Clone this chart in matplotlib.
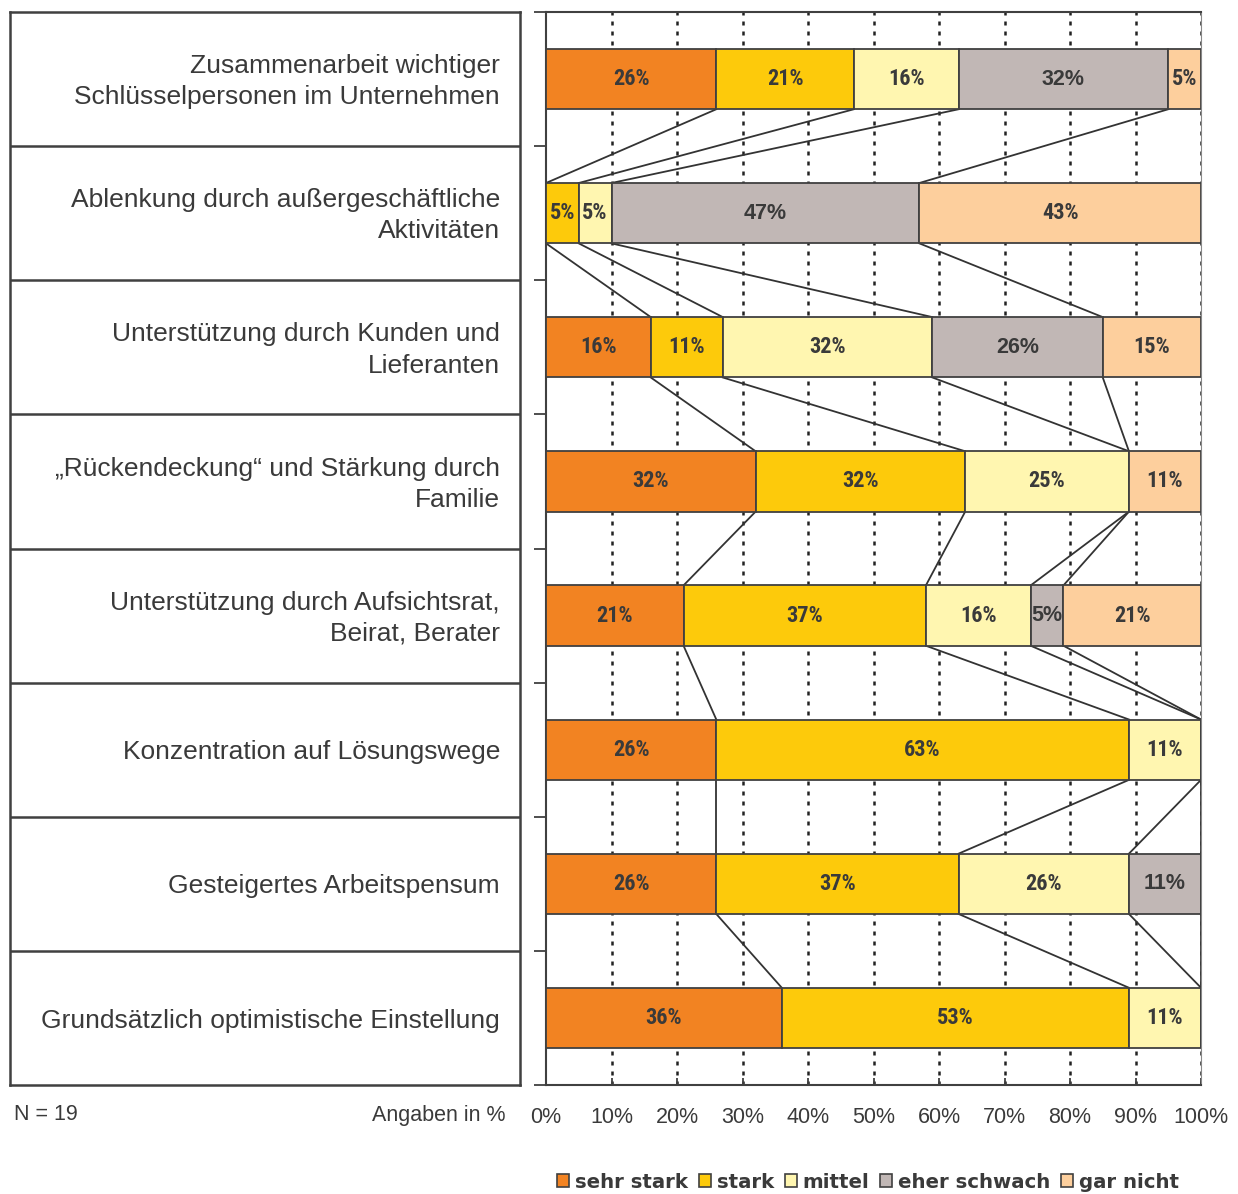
import matplotlib
matplotlib.use("Agg")
import numpy as np
import matplotlib.pyplot as plt
from matplotlib.patches import Patch

plt.rcParams['font.family'] = ['Liberation Sans', 'DejaVu Sans']

# Daten (Angaben in %)
kategorien = [
    "Zusammenarbeit wichtiger\nSchlüsselpersonen im Unternehmen",
    "Ablenkung durch außergeschäftliche\nAktivitäten",
    "Unterstützung durch Kunden und\nLieferanten",
    "„Rückendeckung“ und Stärkung durch\nFamilie",
    "Unterstützung durch Aufsichtsrat,\nBeirat, Berater",
    "Konzentration auf Lösungswege",
    "Gesteigertes Arbeitspensum",
    "Grundsätzlich optimistische Einstellung",
]
serien = ["sehr stark", "stark", "mittel", "eher schwach", "gar nicht"]
sehr_stark = [26, 0, 16, 32, 21, 26, 26, 36]
stark = [21, 5, 11, 32, 37, 63, 37, 53]
mittel = [16, 5, 32, 25, 16, 11, 26, 11]
eher_schwach = [32, 47, 26, 0, 5, 0, 11, 0]
gar_nicht = [5, 43, 15, 11, 21, 0, 0, 0]
x_ticks = [0, 10, 20, 30, 40, 50, 60, 70, 80, 90, 100]
x_labels = [f"{t}%" for t in x_ticks]

farben = ["#F28322", "#FDCA0B", "#FFF6B0", "#C1B7B5", "#FDCF9D"]
rand = "#404040"
textfarbe = "#3a3a3a"
schmal = ["Liberation Sans Narrow", "Roboto Condensed", "Liberation Sans"]

daten = np.array([sehr_stark, stark, mittel, eher_schwach, gar_nicht], dtype=float)
n = len(kategorien)
y = np.arange(n)
h = 0.45

W, H = 1238, 1194
fig = plt.figure(figsize=(W / 100, H / 100), dpi=100)
ax_bottom = (H - 1085) / H
ax_height = (1085 - 12) / H
ax = fig.add_axes([546 / W, ax_bottom, 655 / W, ax_height])

# gestrichelte Gitterlinien
for t in x_ticks[1:]:
    ax.axvline(t, color="#222222", lw=1.8, ls=(0, (1.6, 2.4)), zorder=0)

links = np.zeros(n)
for k in range(len(serien)):
    ax.barh(y, daten[k], left=links, height=h, color=farben[k],
            edgecolor=rand, linewidth=1.3, zorder=3)
    for i in range(n):
        v = daten[k][i]
        if v > 0:
            if k == 3:
                ax.text(links[i] + v / 2, y[i], f"{int(v)}%", ha="center", va="center",
                        fontsize=15.5, fontweight="bold", color=textfarbe, zorder=4)
            else:
                ax.text(links[i] + v / 2, y[i], f"{int(v)}%", ha="center", va="center",
                        fontsize=16, fontweight="bold", color=textfarbe, zorder=4,
                        family=schmal, fontstretch="condensed")
    links = links + daten[k]

# Verbindungslinien zwischen den Balken
kum = np.cumsum(daten, axis=0)
for i in range(n - 1):
    for k in range(len(serien) - 1):
        ax.plot([kum[k][i], kum[k][i + 1]], [y[i] + h / 2, y[i + 1] - h / 2],
                color="#333333", lw=1.3, zorder=2)

ax.set_xlim(0, 100)
ax.set_ylim(n - 0.5, -0.5)
ax.set_xticks(x_ticks)
ax.set_xticklabels(x_labels, fontsize=15.5, color=textfarbe)
ax.tick_params(axis="x", direction="in", length=5, width=1.3, color=rand, pad=16)
ax.set_yticks(np.arange(-0.5, n, 1))
ax.set_yticklabels([])
ax.tick_params(axis="y", direction="out", length=9, width=1.3, color=rand)
for s in ["left", "bottom", "top"]:
    ax.spines[s].set_color(rand)
    ax.spines[s].set_linewidth(1.5)
ax.spines["right"].set_color("#888888")
ax.spines["right"].set_linewidth(0.8)

# Tabelle links mit Kategorien
tab = fig.add_axes([10 / W, ax_bottom, 510 / W, ax_height])
tab.set_xlim(0, 1)
tab.set_ylim(n - 0.5, -0.5)
tab.set_xticks([])
tab.set_yticks([])
for s in tab.spines.values():
    s.set_color(rand)
    s.set_linewidth(1.8)
for i in range(n - 1):
    tab.axhline(i + 0.5, color=rand, lw=1.8)
for i, kat in enumerate(kategorien):
    tab.text(0.961, i + 0.02, kat, ha="right", va="center", fontsize=19,
             color=textfarbe, linespacing=1.38)

fig.text(14 / W, 1 - 1115 / H, "N = 19", ha="left", va="center", fontsize=15.5, color=textfarbe)
fig.text(506 / W, 1 - 1115 / H, "Angaben in %", ha="right", va="center", fontsize=15.5,
         color=textfarbe)

handles = [Patch(facecolor=farben[k], edgecolor=rand, linewidth=1.2) for k in range(len(serien))]
fig.legend(handles, serien, loc="center", bbox_to_anchor=(868 / W, 12 / H), ncol=5,
           frameon=False, handlelength=0.6, handleheight=0.6, handletextpad=0.3,
           columnspacing=0.55, borderaxespad=0,
           prop={"family": "DejaVu Sans", "weight": "bold", "size": 14.2},
           labelcolor=textfarbe)

fig.savefig("out.png", dpi=100)
